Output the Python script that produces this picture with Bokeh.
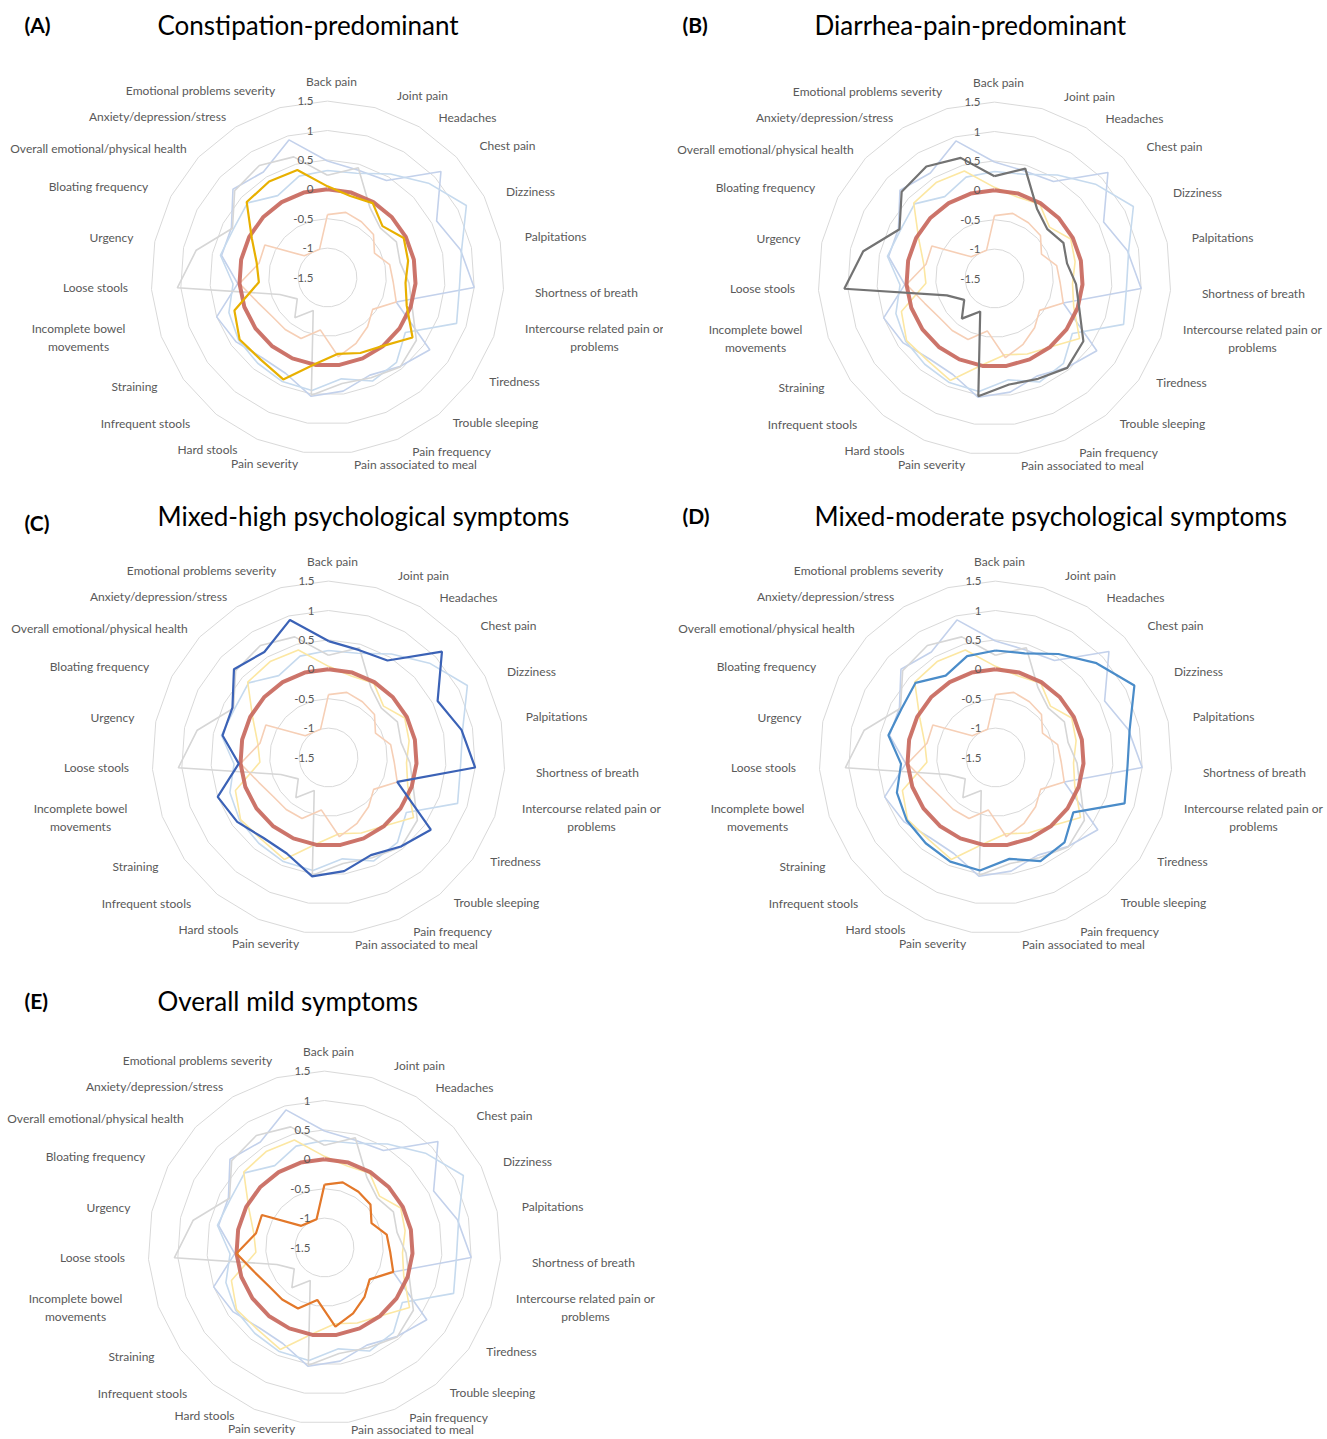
import math
from bokeh.plotting import figure
from bokeh.layouts import column, row
from bokeh.models import Range1d, ColumnDataSource
from bokeh.core.properties import value
from bokeh.embed import file_html
from bokeh.resources import INLINE

# ---------------- data ----------------
categories = [
    "Back pain", "Joint pain", "Headaches", "Chest pain", "Dizziness", "Palpitations",
    "Shortness of breath", "Intercourse related pain or\nproblems", "Tiredness",
    "Trouble sleeping", "Pain frequency", "Pain associated to meal", "Pain severity",
    "Hard stools", "Infrequent stools", "Straining", "Incomplete bowel\nmovements",
    "Loose stools", "Urgency", "Bloating frequency", "Overall emotional/physical health",
    "Anxiety/depression/stress", "Emotional problems severity",
]
constipation = [0.05, -0.06, -0.02, -0.22, -0.04, -0.10, -0.17, -0.07, 0.27, 0.00, -0.10, -0.19,
                -0.02, 0.39, 0.30, 0.33, 0.18, -0.33, -0.27, -0.05, 0.38, 0.41, 0.40]
diarrhea_pain = [0.24, 0.44, -0.11, -0.27, -0.18, -0.24, -0.11, 0.03, 0.35, 0.46, 0.36, 0.32,
                 0.52, -0.89, -0.62, -0.87, -0.64, 1.06, 0.78, 0.32, 0.66, 0.73, 0.63]
mixed_high = [0.48, 0.40, 0.43, 1.14, 0.59, 0.81, 1.00, -0.26, 0.63, 0.45, 0.31, 0.45,
              0.54, 0.28, 0.26, 0.40, 0.50, 0.03, 0.34, 0.34, 0.70, 0.60, 0.93]
mixed_moderate = [0.32, 0.34, 0.56, 0.85, 1.16, 0.83, 0.75, 0.83, 0.12, 0.36, 0.42, 0.24,
                  0.44, 0.43, 0.38, 0.35, 0.28, 0.11, 0.36, 0.30, 0.36, 0.13, 0.29]
overall_mild = [-0.43, -0.35, -0.39, -0.43, -0.60, -0.42, -0.38, -0.26, -0.56, -0.42, -0.28, -0.14,
                -0.60, -0.37, -0.36, -0.35, -0.24, 0.00, -0.31, -0.30, -0.96, -1.00, -1.00]
reference_line = [0, 0, 0, 0, 0, 0, 0, 0, 0, 0, 0, 0, 0, 0, 0, 0, 0, 0, 0, 0, 0, 0, 0]
tick_values = [-1.5, -1, -0.5, 0, 0.5, 1, 1.5]
tick_labels = ["-1.5", "-1", "-0.5", "0", "0.5", "1", "1.5"]

# ---------------- layout / style ----------------
U = 58.8            # pixels per value unit
R_MIN = -1.5        # value at the centre
FONT = "Lato"
LABEL_COLOR = "#595959"
GRID_COLOR = "#D9D9D9"

# label centre offsets from chart centre in pixels (dx right, dy down)
label_offsets = [
    (4, -196), (95, -182), (140, -160), (180, -132), (203, -86), (228, -41),
    (259, 15), (265, 60), (187, 104), (168, 145), (124, 174), (88, 187),
    (-63, 186), (-120, 172), (-182, 146), (-193, 109), (-245, 60), (-232, 10),
    (-216, -40), (-229, -91), (-229, -129), (-170, -161), (-127, -187),
]
IDX_INTERCOURSE = 7
IDX_INCOMPLETE = 16
IDX_BOTTOM = (11, 12)
IDX_LOWER = (10, 13)

series = {
    "A": (constipation, "#E8B000", "#FCE7A2"),
    "B": (diarrhea_pain, "#737373", "#D6D6D6"),
    "C": (mixed_high, "#3B62B6", "#C3D1EB"),
    "D": (mixed_moderate, "#4A8CC9", "#C6DAEE"),
    "E": (overall_mild, "#E3782A", "#F6CFB6"),
}

panels = [
    dict(key="A", title="Constipation-predominant", w=663, h=498, c=(327, 277),
         letter_xy=(24, 24), title_xy=(157, 24), wrap_dx=(267, -249), bottom_dy=(0, 0)),
    dict(key="B", title="Diarrhea-pain-predominant", w=664, h=498, c=(331, 278),
         letter_xy=(19, 24), title_xy=(151, 24), wrap_dx=(258, -239), bottom_dy=(0, 0)),
    dict(key="C", title="Mixed-high psychological symptoms", w=663, h=485, c=(328, 259),
         letter_xy=(24, 24), title_xy=(157, 17), wrap_dx=(263, -248), bottom_dy=(0, 0)),
    dict(key="D", title="Mixed-moderate psychological symptoms", w=664, h=485, c=(332, 259),
         letter_xy=(19, 17), title_xy=(151, 17), wrap_dx=(258, -238), bottom_dy=(0, 0)),
    dict(key="E", title="Overall mild symptoms", w=663, h=456, c=(324, 264),
         letter_xy=(24, 17), title_xy=(157, 17), wrap_dx=(261, -249), bottom_dy=(-4, -5)),
]

N = len(categories)
angles = [2 * math.pi * i / N for i in range(N)]


def polar(vals):
    xs = [(v - R_MIN) * math.sin(a) for v, a in zip(vals, angles)]
    ys = [(v - R_MIN) * math.cos(a) for v, a in zip(vals, angles)]
    return xs + xs[:1], ys + ys[:1]


def make_panel(spec):
    W, H = spec["w"], spec["h"]
    cx, cy = spec["c"]
    p = figure(width=W, height=H,
               x_range=Range1d(-cx / U, (W - cx) / U),
               y_range=Range1d(-(H - cy) / U, cy / U),
               output_backend="svg", toolbar_location=None,
               x_axis_type=None, y_axis_type=None, min_border=0)
    p.outline_line_color = None
    p.background_fill_color = "white"
    p.border_fill_color = "white"

    def px(fx, fy):
        return (fx - cx) / U, (cy - fy) / U

    # grid rings
    for t in tick_values:
        if t == R_MIN:
            continue
        xs, ys = polar([t] * N)
        p.line(xs, ys, line_color=GRID_COLOR, line_width=1)

    # faint series
    for k in ["C", "D", "A", "B", "E"]:
        if k == spec["key"]:
            continue
        vals, _, faint = series[k]
        xs, ys = polar(vals)
        p.line(xs, ys, line_color=faint, line_width=1.6)

    # zero reference
    xs, ys = polar(reference_line)
    p.line(xs, ys, line_color="#C8665B", line_width=4, line_alpha=0.9)

    # highlighted series
    vals, strong, _ = series[spec["key"]]
    xs, ys = polar(vals)
    p.line(xs, ys, line_color=strong, line_width=2.2)

    # tick labels
    tsrc = ColumnDataSource(dict(x=[-14 / U] * len(tick_values),
                                 y=[t - R_MIN for t in tick_values], text=tick_labels))
    p.text("x", "y", "text", source=tsrc, text_font=value(FONT), text_font_size="11.5px",
           text_color=LABEL_COLOR, text_align="right", text_baseline="middle")

    # category labels
    offs = [list(o) for o in label_offsets]
    offs[IDX_INTERCOURSE][0] = spec["wrap_dx"][0]
    offs[IDX_INCOMPLETE][0] = spec["wrap_dx"][1]
    for i in IDX_BOTTOM:
        offs[i][1] += spec["bottom_dy"][1]
    for i in IDX_LOWER:
        offs[i][1] += spec["bottom_dy"][0]
    lsrc = ColumnDataSource(dict(x=[dx / U for dx, dy in offs],
                                 y=[-dy / U for dx, dy in offs], text=categories))
    p.text("x", "y", "text", source=lsrc, text_font=value(FONT), text_font_size="12px",
           text_color=LABEL_COLOR, text_align="center", text_baseline="middle",
           text_line_height=1.15)

    # titles
    lx, ly = px(*spec["letter_xy"])
    p.text([lx], [ly], ["(" + spec["key"] + ")"], text_font=value(FONT), text_font_size="21px",
           text_font_style="bold", text_color="#000000", text_align="left", text_baseline="middle")
    tx, ty = px(*spec["title_xy"])
    p.text([tx], [ty], [spec["title"]], text_font=value(FONT), text_font_size="26px",
           text_color="#000000", text_align="left", text_baseline="middle")
    return p


figs = [make_panel(s) for s in panels]
layout = column(row(figs[0], figs[1]), row(figs[2], figs[3]), row(figs[4]))

open("out.html", "w").write(file_html(layout, INLINE))
